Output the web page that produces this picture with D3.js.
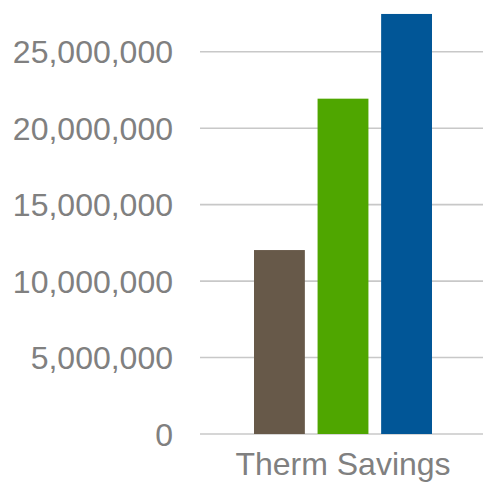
<!DOCTYPE html>
<html>
<head>
<meta charset="utf-8">
<script src="https://cdn.jsdelivr.net/npm/d3@7"></script>
<style>
  html, body { margin: 0; padding: 0; background: #fff; }
  svg { display: block; }
  text { font-family: "Liberation Sans", Arial, sans-serif; fill: #808080; }
</style>
</head>
<body>
<svg id="chart" width="483" height="490"></svg>
<script>
// Chart data
const categories = ["Therm Savings"];
const seriesNames = ["Series 1", "Series 2", "Series 3"];
const seriesValues = [12030000, 21930000, 27470000];
const seriesColors = ["#675949", "#4fa600", "#015697"];
const yTicks = [0, 5000000, 10000000, 15000000, 20000000, 25000000];

const svg = d3.select("#chart");

const plot = { left: 200, right: 486, top: 13.5, bottom: 434 };

const y = d3.scaleLinear()
  .domain([0, 27500000])
  .range([plot.bottom, plot.top]);

const x0 = d3.scaleBand()
  .domain(categories)
  .range([plot.left, plot.right])
  .padding(0);

const groupInset = 54;
const x1 = d3.scaleBand()
  .domain(seriesNames)
  .range([groupInset, x0.bandwidth() - groupInset])
  .paddingInner(0.2)
  .paddingOuter(0);

// Horizontal gridlines
svg.append("g")
  .selectAll("line")
  .data(yTicks)
  .join("line")
  .attr("x1", plot.left)
  .attr("x2", 483)
  .attr("y1", d => y(d))
  .attr("y2", d => y(d))
  .attr("stroke", "#c8c8c8")
  .attr("stroke-width", 1.6);

// Y axis labels
const fmt = d3.format(",");
svg.append("g")
  .selectAll("text")
  .data(yTicks)
  .join("text")
  .attr("x", 173)
  .attr("y", d => y(d))
  .attr("dy", "0.36em")
  .attr("text-anchor", "end")
  .attr("font-size", 32)
  .text(d => fmt(d));

// Bars
const rows = categories.map(c => ({
  category: c,
  values: seriesNames.map((s, i) => ({ name: s, value: seriesValues[i], color: seriesColors[i] }))
}));

svg.append("g")
  .selectAll("g")
  .data(rows)
  .join("g")
  .attr("transform", d => `translate(${x0(d.category)},0)`)
  .selectAll("rect")
  .data(d => d.values)
  .join("rect")
  .attr("x", d => x1(d.name))
  .attr("width", x1.bandwidth())
  .attr("y", d => y(d.value))
  .attr("height", d => y(0) - y(d.value))
  .attr("fill", d => d.color);

// Category label
svg.append("g")
  .selectAll("text")
  .data(categories)
  .join("text")
  .attr("x", d => x0(d) + x0.bandwidth() / 2)
  .attr("y", 475)
  .attr("text-anchor", "middle")
  .attr("font-size", 32)
  .text(d => d);
</script>
</body>
</html>
